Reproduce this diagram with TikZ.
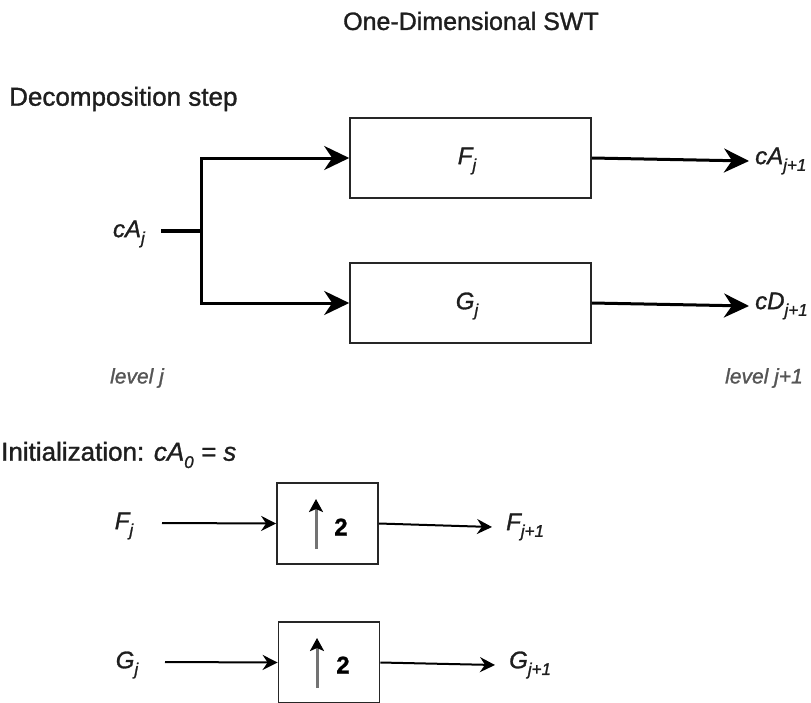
\documentclass[tikz,border=0pt]{standalone}
\usepackage{fontspec}
\setmainfont{Liberation Sans}[FakeBold=1.2]
\usetikzlibrary{arrows.meta}
\definecolor{txt}{HTML}{1E1E1E}
\definecolor{lvl}{HTML}{555555}
\newcommand\mysub[1]{\raisebox{-0.28em}{\fontsize{17}{17}\selectfont #1}}
\begin{document}
\begin{tikzpicture}[x=1pt,y=-1pt,
  lbl/.style={text=txt,font=\fontsize{24}{27}\selectfont\itshape,inner sep=0pt},
  head/.style={text=txt,font=\fontsize{26}{30}\selectfont,inner sep=0pt,anchor=west},
  bigbox/.style={draw=black!85,line width=1.6pt,minimum width=241pt,minimum height=80pt,inner sep=0pt},
  smallbox/.style={draw=black!85,line width=1.8pt,minimum width=101pt,minimum height=81pt,inner sep=0pt},
  thickarrow/.style={line width=3pt,-{Stealth[length=25pt,width=24pt,inset=8pt]}},
  thinarrow/.style={line width=2pt,-{Stealth[length=15pt,width=15pt,inset=5pt]}},
  upar/.style={draw=black!55,line width=3pt,-{Stealth[length=13pt,width=14pt,inset=3pt,color=black]}}
]
\useasboundingbox (0,0) rectangle (811,702);
% titles
\node[text=txt,font=\fontsize{25}{29}\selectfont,inner sep=0pt] (title) at (471,21) {One-Dimensional SWT};
\node[head] (dec) at (9,99) {Decomposition step};
\node[head] (init) at (1,455) {Initialization: \textit{cA\mysub{0} = s}};
% decomposition
\node[bigbox] (F) at (470.5,158) {};
\node[lbl] (Fl) at (467,161) {F\mysub{j}};
\node[bigbox] (G) at (470.5,303) {};
\node[lbl] (Gl) at (467,306) {G\mysub{j}};
\node[lbl,anchor=east] (cAj) at (145,234) {cA\mysub{j}};
\coordinate (in) at (161,231);
\coordinate (jn) at (203,231);
\draw[line width=4pt] (in) -- (jn);
\draw[thickarrow] ([xshift=-1.5pt]jn) |- (F.west);
\draw[thickarrow] ([xshift=-1.5pt]jn) |- (G.west);
\node[lbl,anchor=west] (cA1) at (755,161) {cA\mysub{j+1}};
\node[lbl,anchor=west] (cD1) at (755,306) {cD\mysub{j+1}};
\draw[thickarrow] (F.east) -- ([xshift=-6pt]cA1.west);
\draw[thickarrow] (G.east) -- ([xshift=-6pt]cD1.west);
\node[lbl,text=lvl,font=\fontsize{21}{24}\selectfont\itshape] (lvj) at (137,378) {level j};
\node[lbl,text=lvl,font=\fontsize{21}{24}\selectfont\itshape] (lvj1) at (764,378) {level j+1};
% initialization
\node[smallbox] (U1) at (327.5,523.5) {};
\node[smallbox] (U2) at (329,662.5) {};
\node[lbl,text=black,font=\fontsize{24}{28}\selectfont\bfseries] (two1) at (341,527) {2};
\node[lbl,text=black,font=\fontsize{24}{28}\selectfont\bfseries] (two2) at (343,665) {2};
\coordinate (a1s) at (316,549);
\coordinate (a1e) at (316,499);
\coordinate (a2s) at (317,688);
\coordinate (a2e) at (317,638);
\draw[upar] (a1s) -- (a1e);
\draw[upar] (a2s) -- (a2e);
\node[lbl] (Fj) at (124,526) {F\mysub{j}};
\node[lbl] (Gj) at (127,665) {G\mysub{j}};
\node[lbl,anchor=west] (Fj1) at (506,527) {F\mysub{j+1}};
\node[lbl,anchor=west] (Gj1) at (509,665) {G\mysub{j+1}};
\coordinate (f0) at (162,523);
\coordinate (g0) at (165,662);
\draw[thinarrow] (f0) -- (U1.west);
\draw[thinarrow] (g0) -- (U2.west);
\draw[thinarrow] (U1.east) -- ([xshift=-14pt]Fj1.west);
\draw[thinarrow] (U2.east) -- ([xshift=-14pt]Gj1.west);
\end{tikzpicture}
\end{document}
